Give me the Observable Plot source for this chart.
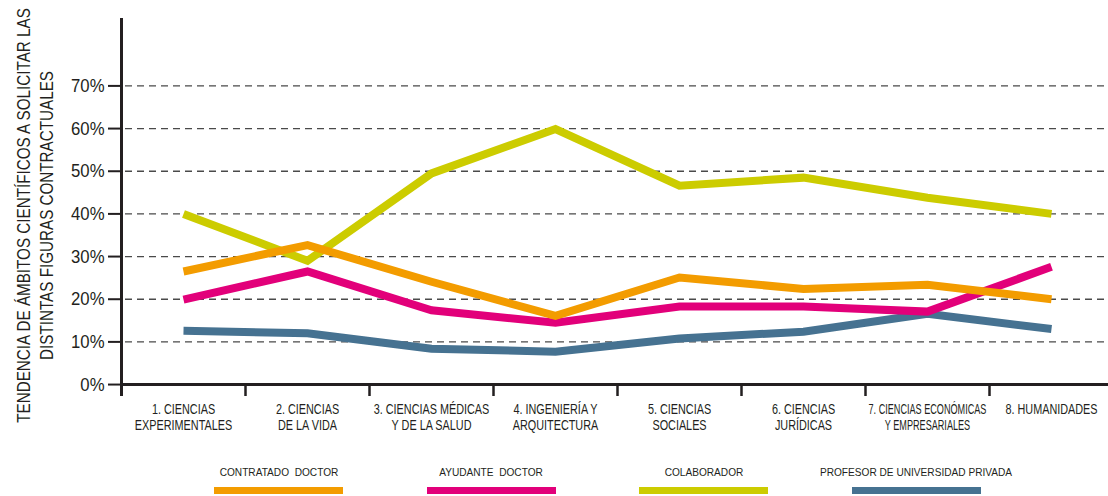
<!DOCTYPE html>
<html>
<head>
<meta charset="utf-8">
<script src="https://cdn.jsdelivr.net/npm/d3@7"></script>
<script src="https://cdn.jsdelivr.net/npm/@observablehq/plot@0.6"></script>
<style>
  body { margin: 0; background: #fff; }
  #wrap { width: 1108px; height: 496px; position: relative; overflow: hidden;
          font-family: "Liberation Sans", Arial, sans-serif; color: #231f20; }
  #legend { position: relative; width: 1108px; height: 56px; }
  .lg-label { position: absolute; top: 26px; font-size: 11px; line-height: 12px; white-space: pre;
              transform: translateX(-50%) scaleX(0.92); transform-origin: 50% 50%; }
  .lg-bar { position: absolute; top: 47px; height: 7px; width: 129px; }
</style>
</head>
<body>
<div id="wrap"><div id="chart"></div><div id="legend"></div></div>
<script>
const FONT = '"Liberation Sans", Arial, sans-serif';

// ---- data ----
const categories = [
  "1. CIENCIAS\nEXPERIMENTALES",
  "2. CIENCIAS\nDE LA VIDA",
  "3. CIENCIAS MÉDICAS\nY DE LA SALUD",
  "4. INGENIERÍA Y\nARQUITECTURA",
  "5. CIENCIAS\nSOCIALES",
  "6. CIENCIAS\nJURÍDICAS",
  "7. CIENCIAS ECONÓMICAS\nY EMPRESARIALES",
  "8. HUMANIDADES"
];
const contratado  = [26.5, 32.7, 24.1, 16.1, 25.1, 22.4, 23.4, 20.0];
const ayudante    = [19.9, 26.5, 17.4, 14.5, 18.3, 18.3, 17.1, 27.6];
const colaborador = [40.0, 29.0, 49.5, 59.9, 46.6, 48.5, 43.8, 40.0];
const profesor    = [12.6, 12.0,  8.4,  7.7, 10.8, 12.4, 16.6, 13.0];
const yTicks = [0, 10, 20, 30, 40, 50, 60, 70];
const seriesNames  = ["CONTRATADO  DOCTOR", "AYUDANTE  DOCTOR", "COLABORADOR", "PROFESOR DE UNIVERSIDAD PRIVADA"];
const seriesColors = ["#f39c00", "#e2007a", "#cccc00", "#467291"];
const yTitle = "TENDENCIA DE ÁMBITOS CIENTÍFICOS A SOLICITAR LAS\nDISTINTAS FIGURAS CONTRACTUALES";

const seriesValues = [contratado, ayudante, colaborador, profesor];
const rows = (k) => categories.map((c, i) => ({cat: c, value: seriesValues[k][i]}));

const lineOpts = (k) => ({x: "cat", y: "value", stroke: seriesColors[k], strokeWidth: 8,
  strokeLinecap: "butt", strokeLinejoin: "miter", strokeMiterlimit: 4});

const yMin = -2.8, yMax = 85.8;

const plot = Plot.plot({
  width: 1108, height: 440,
  marginLeft: 121, marginRight: 0, marginTop: 18, marginBottom: 44,
  style: {fontFamily: FONT, color: "#231f20", background: "white", overflow: "visible"},
  x: {type: "point", domain: categories, range: [121, 1113], padding: 0.5, label: null},
  y: {domain: [yMin, yMax], label: null},
  marks: [
    Plot.ruleY(yTicks.filter(d => d > 0), {stroke: "#4a4a4a", strokeWidth: 1.3, strokeDasharray: "7,5", insetLeft: 4}),
    Plot.line(rows(2), lineOpts(2)),
    Plot.line(rows(3), lineOpts(3)),
    Plot.line(rows(1), lineOpts(1)),
    Plot.line(rows(0), lineOpts(0)),
    Plot.ruleY([0], {stroke: "#231f20", strokeWidth: 3}),
    Plot.ruleX(categories.slice(1), {x: d => d, dx: -62, y1: yMin, y2: 0, stroke: "#231f20", strokeWidth: 2.5}),
    Plot.ruleX(categories.slice(0, 1), {x: d => d, dx: -62, y1: yMin, y2: yMax, stroke: "#231f20", strokeWidth: 3}),
    Plot.axisY({ticks: yTicks, tickFormat: d => d + "%", tickSize: 13, tickPadding: 4, strokeWidth: 2, fontSize: 19, label: null}),
    Plot.axisX({tickSize: 0, tickPadding: 6, fontSize: 15.5, lineHeight: 1.04, label: null}),
    Plot.text([yTitle], {frameAnchor: "left", dx: -87.5, dy: 8, rotate: -90, fontSize: 18, lineHeight: 1.28,
      textAnchor: "middle", lineAnchor: "middle", fill: "#231f20"})
  ]
});
document.getElementById("chart").appendChild(plot);

// horizontally condense texts (reference uses a condensed typeface)
function squeeze(t, s) {
  let tr = t.getAttribute("transform") || "";
  const x = t.getAttribute("x");
  if (x !== null) {
    tr += ` translate(${x},0)`;
    t.removeAttribute("x");
  }
  t.setAttribute("transform", (tr + ` scale(${s},1)`).trim());
}
plot.querySelectorAll('g[aria-label="x-axis tick label"] text').forEach(t => {
  const w = t.getBBox().width;
  squeeze(t, Math.min(0.7, 118 / w));
});
plot.querySelectorAll('g[aria-label="y-axis tick label"] text').forEach(t => squeeze(t, 0.88));
plot.querySelectorAll('g[aria-label="text"] text').forEach(t => {
  const w = t.getBBox().width;
  squeeze(t, 415 / w);
});

// ---- legend ----
const legend = document.getElementById("legend");
const legendLeft = 214, legendStep = 212.6;
seriesNames.forEach((name, k) => {
  const left = legendLeft + k * legendStep;
  const lab = document.createElement("div");
  lab.className = "lg-label"; lab.textContent = name; lab.style.left = (left + 64.5) + "px";
  const bar = document.createElement("div");
  bar.className = "lg-bar"; bar.style.left = left + "px"; bar.style.background = seriesColors[k];
  legend.appendChild(lab); legend.appendChild(bar);
});
</script>
</body>
</html>
